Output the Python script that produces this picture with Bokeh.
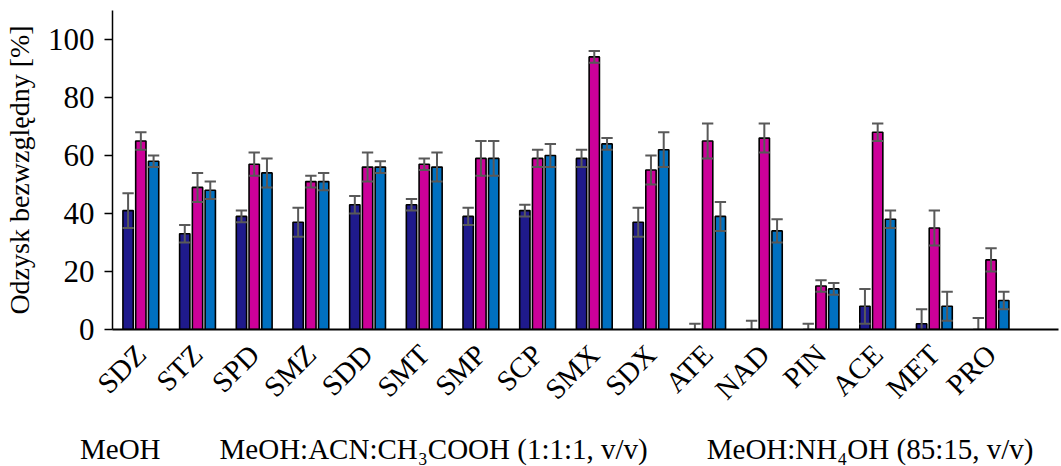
import numpy as np
from bokeh.plotting import figure
from bokeh.layouts import column, row
from bokeh.models import (FixedTicker, Legend, LegendItem, ColumnDataSource, Range1d,
                          CDSView, IndexFilter)
from bokeh.embed import file_html
from bokeh.resources import INLINE

# Compounds on the category axis
compounds = ["SDZ", "STZ", "SPD", "SMZ", "SDD", "SMT", "SMP", "SCP",
             "SMX", "SDX", "ATE", "NAD", "PIN", "ACE", "MET", "PRO"]

# Absolute recovery [%] and error (±) for each extraction solvent
meoh = [41, 33, 39, 37, 43, 43, 39, 41, 59, 37, 0, 0, 0, 8, 2, 0]
meoh_err = [6, 3, 2, 5, 3, 2, 3, 2, 3, 5, 2, 3, 2, 6, 5, 4]

acid = [65, 49, 57, 51, 56, 57, 59, 59, 94, 55, 65, 66, 15, 68, 35, 24]
acid_err = [3, 5, 4, 2, 5, 2, 6, 3, 2, 5, 6, 5, 2, 3, 6, 4]

ammonia = [58, 48, 54, 51, 56, 56, 59, 60, 64, 62, 39, 34, 14, 38, 8, 10]
ammonia_err = [2, 3, 5, 3, 2, 5, 6, 4, 2, 6, 5, 4, 2, 3, 5, 3]

series_names = ["MeOH", "MeOH:ACN:CH\u2083COOH (1:1:1, v/v)", "MeOH:NH\u2084OH (85:15, v/v)"]
series_colors = ["#1F1A8C", "#CC0099", "#0070C0"]

y_ticks = [0, 20, 40, 60, 80, 100]

FONT = "Liberation Serif"

p = figure(width=1061, height=425,
           x_range=Range1d(0, 16.69), y_range=Range1d(0, 110),
           min_border_left=112, min_border_right=3,
           min_border_top=10, min_border_bottom=96,
           output_backend="svg", toolbar_location=None)
p.outline_line_color = None
p.xgrid.visible = False
p.ygrid.visible = False
p.background_fill_color = "white"
p.border_fill_color = "white"

centers = np.arange(len(compounds)) + 0.5
offsets = [-0.225, 0.0, 0.225]
bar_w = 0.182
cap = 0.1

sources = []
for vals, errs, color, off in zip([meoh, acid, ammonia],
                                  [meoh_err, acid_err, ammonia_err],
                                  series_colors, offsets):
    v = np.array(vals, dtype=float)
    e = np.array(errs, dtype=float)
    x = centers + off
    src = ColumnDataSource(dict(x=x, top=v, lo=v - e, hi=v + e,
                                xl=x - cap, xr=x + cap))
    sources.append(src)
    p.vbar(x="x", top="top", width=bar_w, source=src,
           fill_color=color, line_color="black", line_width=1.6)
    p.segment(x0="x", y0="lo", x1="x", y1="hi", source=src,
              line_color="#595959", line_width=2)
    p.segment(x0="xl", y0="hi", x1="xr", y1="hi", source=src,
              line_color="#595959", line_width=2)
    p.segment(x0="xl", y0="lo", x1="xr", y1="lo", source=src,
              line_color="#595959", line_width=2)

# Y axis
ya = p.yaxis[0]
ya.ticker = FixedTicker(ticks=y_ticks)
ya.axis_label = "Odzysk bezwzględny [%]"
ya.axis_label_text_font = FONT
ya.axis_label_text_font_style = "normal"
ya.axis_label_text_font_size = "28px"
ya.axis_label_text_color = "black"
ya.axis_label_standoff = 10
ya.major_label_text_font = FONT
ya.major_label_text_font_size = "31px"
ya.major_label_text_color = "black"
ya.major_label_standoff = 10
ya.major_tick_out = 8
ya.major_tick_in = 0
ya.major_tick_line_color = "black"
ya.major_tick_line_width = 1.5
ya.minor_tick_line_color = None
ya.axis_line_color = "black"
ya.axis_line_width = 1.5

# X axis with rotated compound names
xa = p.xaxis[0]
xa.ticker = FixedTicker(ticks=list(centers))
xa.major_label_overrides = {float(c): name for c, name in zip(centers, compounds)}
xa.major_label_orientation = np.pi / 4
xa.major_label_text_font = FONT
xa.major_label_text_font_size = "29px"
xa.major_label_text_color = "black"
xa.major_label_standoff = 14
xa.major_tick_line_color = None
xa.minor_tick_line_color = None
xa.axis_line_color = "black"
xa.axis_line_width = 2

# Legend strip under the chart: the series renderers here show no rows
# (empty index filter), they only provide the legend swatches
lg = figure(width=1061, height=41, x_range=Range1d(0, 16.69), y_range=Range1d(-20, -19),
            min_border_left=0, min_border_right=0, min_border_top=0, min_border_bottom=0,
            output_backend="svg", toolbar_location=None)
lg.axis.visible = False
lg.xgrid.visible = False
lg.ygrid.visible = False
lg.outline_line_color = None
lg.background_fill_color = "white"
lg.border_fill_color = "white"

swatches = [lg.vbar(x="x", top="top", width=bar_w, source=src,
                    view=CDSView(filter=IndexFilter(indices=[])),
                    fill_color=c, line_color="black", line_width=1.6)
            for src, c in zip(sources, series_colors)]

legend = Legend(items=[LegendItem(label=n, renderers=[r]) for n, r in zip(series_names, swatches)],
                location=(55, 0), orientation="horizontal",
                label_text_font=FONT, label_text_font_size="29px",
                label_text_color="black",
                glyph_width=19, glyph_height=19, label_standoff=6,
                spacing=34, padding=0, margin=0,
                border_line_color=None, background_fill_alpha=0)
lg.add_layout(legend, "center")

layout = column(p, row(lg), spacing=0)
open("out.html", "w").write(file_html(layout, INLINE))
